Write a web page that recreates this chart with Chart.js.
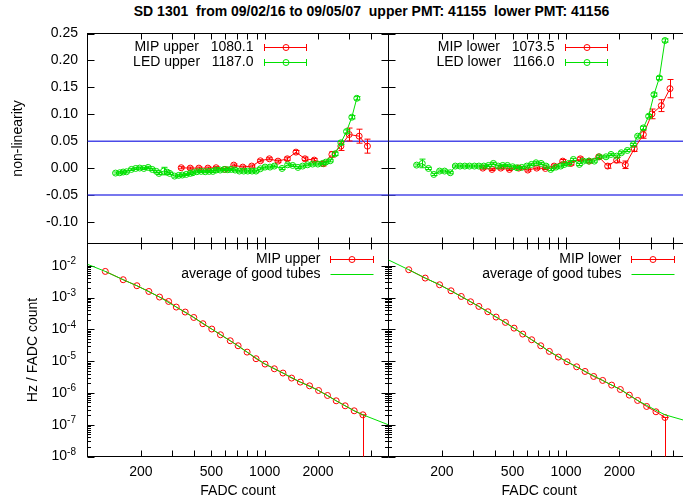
<!DOCTYPE html>
<html>
<head>
<meta charset="utf-8">
<script src="https://cdn.jsdelivr.net/npm/chart.js@4.4.1/dist/chart.umd.min.js"></script>
<style>
html, body { margin:0; padding:0; background:#fff; overflow:hidden; width:683px; height:501px; }
#wrap { position:relative; width:683px; height:501px; overflow:hidden; }
#wrap canvas { position:absolute; }
#title { position:absolute; top:3px; left:0; width:743px; text-align:center; white-space:pre;
         font:bold 14px "Liberation Sans", Arial, sans-serif; color:#000; }
</style>
</head>
<body>
<div id="wrap">
  <div id="title">SD 1301  from 09/02/16 to 09/05/07  upper PMT: 41155  lower PMT: 41156</div>
  <canvas id="c_tl" width="389" height="244" style="left:0;top:0"></canvas>
  <canvas id="c_tr" width="310" height="244" style="left:388px;top:0"></canvas>
  <canvas id="c_bl" width="389" height="258" style="left:0;top:243px"></canvas>
  <canvas id="c_br" width="310" height="258" style="left:388px;top:243px"></canvas>
</div>
<script>
// ---- values

// top left: non-linearity, upper PMT
const fadcMipUp = [338, 380, 425, 478, 532, 598, 669, 752, 845, 946, 1063, 1189, 1342, 1502, 1688, 1905, 2141, 2395, 2692, 2999, 3414, 3803];
const nlMipUp   = [0.0007, 0.0, 0.0, 0.0, 0.0007, -0.0024, 0.0056, 0.0019, 0.0038, 0.0136, 0.0173, 0.013, 0.0173, 0.0297, 0.0173, 0.0149, 0.0081, 0.0254, 0.0408, 0.0624, 0.0593, 0.0408];
const errMipUp  = [0.002, 0.002, 0.002, 0.002, 0.002, 0.002, 0.002, 0.002, 0.002, 0.002, 0.002, 0.002, 0.003, 0.003, 0.003, 0.003, 0.004, 0.005, 0.008, 0.012, 0.013, 0.013];

const fadcLedUp = [144, 152, 159, 166, 177, 187, 197, 208, 220, 232, 245, 253, 269, 281, 291, 310, 327, 343, 361, 380,
                   393, 414, 438, 462, 486, 510, 532, 561, 591, 619, 647, 681, 720, 762, 803, 849, 894, 946, 1005, 1072,
                   1134, 1253, 1348, 1439, 1541, 1637, 1747, 1864, 1997, 2122, 2216, 2344, 2501, 2692, 2897, 3104, 3312];
const nlLedUp   = [-0.0092, -0.0086, -0.0073, -0.0067, -0.0024, -0.0006, 0.0001, -0.0006, 0.0013, -0.0024, -0.0061, -0.0098, -0.0055, -0.0073, -0.0098, -0.0148, -0.0135, -0.0129, -0.0117, -0.0098,
                   -0.0086, -0.0067, -0.0061, -0.0067, -0.0061, -0.0061, -0.0036, -0.0036, -0.0024, -0.003, -0.0024, -0.0036, -0.0055, -0.0055, -0.0055, -0.0055, -0.0055, -0.0012, 0.0019, 0.0019,
                   0.0038, -0.0006, 0.0062, 0.005, 0.0013, 0.0038, 0.0062, 0.0075, 0.0075, 0.0087, 0.0112, 0.0136, 0.0266, 0.047, 0.068, 0.0945, 0.1297];
const errLedUp  = [0.002, 0.002, 0.002, 0.002, 0.002, 0.002, 0.002, 0.002, 0.002, 0.002, 0.002, 0.002, 0.007, 0.002, 0.002, 0.002, 0.002, 0.002, 0.002, 0.002,
                   0.002, 0.002, 0.002, 0.002, 0.002, 0.002, 0.002, 0.002, 0.002, 0.002, 0.002, 0.002, 0.002, 0.002, 0.002, 0.002, 0.002, 0.002, 0.002, 0.002,
                   0.002, 0.002, 0.002, 0.002, 0.002, 0.002, 0.002, 0.002, 0.002, 0.002, 0.002, 0.002, 0.003, 0.003, 0.003, 0.003, 0.003];

// top right: non-linearity, lower PMT
const fadcMipLo = [340, 383, 429, 480, 542, 609, 684, 766, 857, 959, 1068, 1205, 1354, 1529, 1718, 1930, 2160, 2427, 2729, 3052, 3445, 3855];
const nlMipLo   = [0.0, -0.0024, 0.0, -0.0024, 0.0, -0.0036, 0.0, -0.0006, 0.0038, 0.013, 0.0087, 0.0173, 0.013, 0.021, 0.0038, 0.0149, 0.0062, 0.0359, 0.0624, 0.1007, 0.116, 0.1476];
const errMipLo  = [0.002, 0.002, 0.002, 0.002, 0.002, 0.002, 0.002, 0.002, 0.002, 0.003, 0.003, 0.003, 0.003, 0.003, 0.004, 0.005, 0.007, 0.005, 0.007, 0.009, 0.011, 0.017];

const fadcLedLo = [144, 155, 168, 180, 194, 207, 223, 238, 253, 269, 286, 305, 323, 344, 366, 390, 415, 440, 468, 501,
                   530, 563, 601, 639, 678, 724, 772, 820, 879, 934, 980, 1036, 1101, 1190, 1253, 1343, 1445, 1542, 1681, 1794,
                   1930, 2051, 2217, 2397, 2534, 2729, 2923, 3132, 3357, 3613];
const nlLedLo   = [0.0056, 0.0087, -0.0006, -0.0117, -0.0055, -0.0055, -0.0086, 0.0038, 0.0038, 0.0038, 0.0038, 0.0038, 0.0038, 0.0038, 0.005, 0.0087, 0.0038, 0.005, 0.005, 0.0025,
                   0.0007, 0.0013, 0.0038, 0.0069, 0.0099, 0.0087, 0.0038, -0.0024, 0.0019, 0.0038, 0.0069, 0.0087, 0.0161, 0.0069, 0.013, 0.013, 0.013, 0.021, 0.021, 0.0254,
                   0.0223, 0.0285, 0.0328, 0.0439, 0.0593, 0.0747, 0.0964, 0.1365, 0.1673, 0.237];
const errLedLo  = [0.002, 0.008, 0.002, 0.002, 0.002, 0.002, 0.002, 0.002, 0.002, 0.002, 0.002, 0.002, 0.002, 0.002, 0.002, 0.002, 0.002, 0.002, 0.002, 0.002,
                   0.002, 0.002, 0.002, 0.002, 0.002, 0.002, 0.002, 0.002, 0.002, 0.002, 0.002, 0.002, 0.002, 0.002, 0.002, 0.002, 0.002, 0.002, 0.002, 0.002,
                   0.002, 0.002, 0.002, 0.002, 0.002, 0.003, 0.003, 0.003, 0.003, 0.003];

// bottom left: rate spectrum, upper PMT
const fadcRateUp = [126, 159, 190, 222, 255, 287, 317, 356, 398, 448, 503, 563, 639, 708, 796, 894, 1005, 1134, 1269, 1419, 1589, 1792, 2015, 2263, 2533, 2847, 3201, 3583];
const rateMipUp  = [6.62e-3, 3.63e-3, 2.35e-3, 1.55e-3, 1.035e-3, 7.53e-4, 5.01e-4, 3.49e-4, 2.36e-4, 1.50e-4, 1.02e-4, 6.74e-5, 4.37e-5, 3.04e-5,
                    1.92e-5, 1.19e-5, 8.07e-6, 5.74e-6, 4.21e-6, 2.93e-6, 2.19e-6, 1.67e-6, 1.19e-6, 8.30e-7, 5.65e-7, 3.93e-7, 2.74e-7, 2.05e-7];
const fadcAvgUp  = [100, 126, 159, 190, 255, 317, 398, 503, 639, 796, 1005, 1269, 1589, 2015, 2533, 3201, 3583, 5000];
const rateAvgUp  = [1.11e-2, 6.62e-3, 3.63e-3, 2.35e-3, 1.035e-3, 5.01e-4, 2.36e-4, 1.02e-4, 4.37e-5, 1.92e-5, 8.07e-6, 4.21e-6, 2.19e-6, 1.19e-6, 5.65e-7, 2.74e-7, 2.05e-7, 9.9e-8];

// bottom right: rate spectrum, lower PMT
const fadcRateLo = [130, 161, 194, 225, 257, 290, 323, 363, 404, 456, 510, 571, 641, 721, 806, 906, 1014, 1149, 1281, 1433, 1610, 1809, 2025, 2275, 2534, 2849, 3215, 3613];
const rateMipLo  = [7.48e-3, 4.09e-3, 2.52e-3, 1.63e-3, 1.08e-3, 7.36e-4, 5.25e-4, 3.57e-4, 2.43e-4, 1.65e-4, 1.09e-4, 7.08e-5, 4.70e-5, 3.04e-5,
                    2.02e-5, 1.34e-5, 9.53e-6, 6.63e-6, 4.73e-6, 3.29e-6, 2.47e-6, 1.76e-6, 1.28e-6, 8.52e-7, 5.79e-7, 3.75e-7, 2.55e-7, 1.69e-7];
const fadcAvgLo  = [100, 130, 161, 194, 257, 323, 404, 510, 641, 806, 1014, 1281, 1610, 2025, 2534, 2849, 3215, 3613, 5000];
const rateAvgLo  = [1.52e-2, 7.48e-3, 4.09e-3, 2.52e-3, 1.08e-3, 5.25e-4, 2.43e-4, 1.09e-4, 4.70e-5, 2.02e-5, 9.53e-6, 4.73e-6, 2.47e-6, 1.28e-6, 5.79e-7, 4.07e-7, 2.84e-7, 2.05e-7, 1.22e-7];

// last bin of each spectrum has an error bar reaching zero
const rateUpLowErr = new Array(rateMipUp.length - 1).fill(0).concat([rateMipUp[rateMipUp.length - 1]]);
const rateLoLowErr = new Array(rateMipLo.length - 1).fill(0).concat([rateMipLo[rateMipLo.length - 1]]);
const noErrUp = new Array(rateMipUp.length).fill(0);
const noErrLo = new Array(rateMipLo.length).fill(0);

// axes
const fadcRange = [100, 5000];
const fadcTicks = [200, 500, 1000, 2000];
const fadcMinor = [300, 400, 600, 700, 800, 900, 3000, 4000];
const nlRange = [-0.14, 0.25];
const nlTicks = [0.25, 0.20, 0.15, 0.10, 0.05, 0.00, -0.05, -0.10];
const nlLimits = [0.05, -0.05];
const rateRange = [1e-8, 0.05];
const rateDecades = [1e-2, 1e-3, 1e-4, 1e-5, 1e-6, 1e-7, 1e-8];

// ---- drawing
const FONT = '"Liberation Sans", Arial, sans-serif';
const RED = '#ff0000', GREEN = '#00e000', BLUE = '#4a4ae8';
Chart.defaults.font.family = FONT;
Chart.defaults.font.size = 14;
Chart.defaults.color = '#000';

function pts(xs, ys) {
	return xs.map(function(x, i) { return {x: x, y: ys[i]}; });
}

function series(xs, ys, color, lo, hi, order) {
	return {
		data: pts(xs, ys),
		borderColor: color,
		backgroundColor: 'rgba(0,0,0,0)',
		borderWidth: 1,
		pointRadius: 3,
		pointBorderWidth: 1,
		pointBackgroundColor: 'rgba(0,0,0,0)',
		pointBorderColor: color,
		tension: 0,
		errLo: lo,
		errHi: hi,
		order: order
	};
}

function plainLine(xs, ys, color, width, order) {
	return {data: pts(xs, ys), borderColor: color, borderWidth: width, pointRadius: 0, tension: 0, order: order};
}

// vertical error bars with caps, drawn right after their own dataset
const errorBars = {
	id: 'errorBars',
	afterDatasetDraw: function(chart, args) {
		const ds = chart.data.datasets[args.index];
		if (!ds.errLo) return;
		const ctx = chart.ctx, ca = chart.chartArea, ys = chart.scales[args.meta.yAxisID];
		const isLog = ys.type === 'logarithmic';
		ctx.save();
		ctx.beginPath();
		ctx.rect(ca.left, ca.top, ca.right - ca.left, ca.bottom - ca.top);
		ctx.clip();
		ctx.strokeStyle = ds.borderColor;
		ctx.lineWidth = 1;
		ctx.beginPath();
		args.meta.data.forEach(function(pt, i) {
			const v = ds.data[i].y, lo = v - ds.errLo[i], hi = v + ds.errHi[i];
			if (lo === hi) return;
			const x = Math.round(pt.x) + 0.5;
			const yHi = ys.getPixelForValue(hi);
			const yLo = (isLog && lo <= 0) ? ca.bottom + 2 : ys.getPixelForValue(lo);
			ctx.moveTo(x, yLo); ctx.lineTo(x, yHi);
			ctx.moveTo(x - 3, yHi); ctx.lineTo(x + 3, yHi);
			ctx.moveTo(x - 3, yLo); ctx.lineTo(x + 3, yLo);
		});
		ctx.stroke();
		ctx.restore();
	}
};

// gnuplot style border with inward ticks on all four sides
function frame(xTicks, yTicks) {
	return {
		id: 'frame',
		beforeDatasetsDraw: function(chart) {
			const ctx = chart.ctx, ca = chart.chartArea, xs = chart.scales.x, ys = chart.scales.y;
			ctx.save();
			ctx.strokeStyle = '#000';
			ctx.lineWidth = 1;
			ctx.beginPath();
			xTicks.forEach(function(t) {
				const px = Math.round(xs.getPixelForValue(t.v)) + 0.5;
				ctx.moveTo(px, ca.bottom); ctx.lineTo(px, ca.bottom - t.len);
				ctx.moveTo(px, ca.top); ctx.lineTo(px, ca.top + t.len);
			});
			yTicks.forEach(function(t) {
				const py = Math.round(ys.getPixelForValue(t.v)) + 0.5;
				ctx.moveTo(ca.left, py); ctx.lineTo(ca.left + t.len, py);
				ctx.moveTo(ca.right, py); ctx.lineTo(ca.right - t.len, py);
			});
			ctx.stroke();
			ctx.strokeRect(ca.left, ca.top, ca.right - ca.left, ca.bottom - ca.top);
			ctx.restore();
		}
	};
}

// key in gnuplot layout: right aligned text, then a sample
function key(rows, pos) {
	return {
		id: 'key',
		afterDraw: function(chart) {
			const ctx = chart.ctx, ca = chart.chartArea;
			ctx.save();
			ctx.font = '14px ' + FONT;
			ctx.textAlign = 'right';
			ctx.textBaseline = 'middle';
			rows.forEach(function(r, i) {
				const y = Math.round(ca.top + pos.dy[i]) + 0.5;
				const x1 = Math.round(ca.left + pos.x1) + 0.5, x2 = Math.round(ca.left + pos.x2) + 0.5;
				ctx.fillStyle = '#000';
				ctx.fillText(r.text, ca.left + pos.textRight, y);
				ctx.strokeStyle = r.color;
				ctx.lineWidth = 1;
				ctx.beginPath();
				ctx.moveTo(x1, y); ctx.lineTo(x2, y);
				if (r.caps) {
					ctx.moveTo(x1, y - 3.5); ctx.lineTo(x1, y + 3.5);
					ctx.moveTo(x2, y - 3.5); ctx.lineTo(x2, y + 3.5);
				}
				ctx.stroke();
				if (r.point) {
					ctx.beginPath();
					ctx.arc(Math.round((x1 + x2) / 2), y, 3, 0, 2 * Math.PI);
					ctx.stroke();
				}
			});
			ctx.restore();
		}
	};
}

// 10^n labels for the log axis
function powerLabels(values, right) {
	return {
		id: 'powerLabels',
		afterDraw: function(chart) {
			const ctx = chart.ctx, ys = chart.scales.y;
			ctx.save();
			ctx.fillStyle = '#000';
			ctx.textAlign = 'left';
			ctx.textBaseline = 'middle';
			values.forEach(function(v) {
				const py = ys.getPixelForValue(v);
				const e = String(Math.round(Math.log10(v)));
				ctx.font = '10px ' + FONT;
				const ew = ctx.measureText(e).width;
				ctx.font = '14px ' + FONT;
				const bw = ctx.measureText('10').width;
				const x0 = right - ew - bw;
				ctx.fillText('10', x0, py);
				ctx.font = '10px ' + FONT;
				ctx.fillText(e, x0 + bw, py - 4.5);
			});
			ctx.restore();
		}
	};
}

const xTickMarks = fadcTicks.concat(fadcMinor).map(function(v) { return {v: v, len: 6}; });
const nlTickMarks = nlTicks.map(function(v) { return {v: v, len: 7}; });
let rateTickMarks = rateDecades.map(function(v) { return {v: v, len: 7}; });
rateDecades.slice(1).forEach(function(d) {
	for (let m = 2; m <= 9; m++) rateTickMarks.push({v: d * m, len: 3.5});
});

function xTop() {
	return {type: 'logarithmic', min: fadcRange[0], max: fadcRange[1], bounds: 'data', display: false};
}
function xBottom() {
	return {
		type: 'logarithmic', min: fadcRange[0], max: fadcRange[1], bounds: 'data',
		grid: {display: false, drawTicks: false}, border: {display: false},
		ticks: {autoSkip: false, maxRotation: 0, padding: 7, callback: function(v) { return String(v); }},
		afterBuildTicks: function(s) { s.ticks = fadcTicks.map(function(v) { return {value: v}; }); },
		afterFit: function(s) { s.height = 44.5; s.paddingLeft = 0; s.paddingRight = 0; },
		title: {display: true, text: 'FADC count', padding: {top: 0, bottom: 1}}
	};
}

function panel(id, datasets, scales, padding, plugins) {
	return new Chart(document.getElementById(id), {
		type: 'line',
		data: {datasets: datasets},
		options: {
			responsive: false,
			animation: false,
			devicePixelRatio: 1,
			events: [],
			layout: {padding: padding, autoPadding: false},
			plugins: {legend: {display: false}, tooltip: {enabled: false}},
			scales: scales
		},
		plugins: [errorBars].concat(plugins)
	});
}

const topKeyPos = {textRight: 166, x1: 176, x2: 218, dy: [13, 28.5]};
const botKeyPos = {textRight: 233, x1: 242, x2: 285, dy: [15, 30.5]};

// top left
panel('c_tl', [
	series(fadcLedUp, nlLedUp, GREEN, errLedUp, errLedUp, 0),
	series(fadcMipUp, nlMipUp, RED, errMipUp, errMipUp, 1),
	plainLine(fadcRange, [nlLimits[0], nlLimits[0]], BLUE, 1.5, 2),
	plainLine(fadcRange, [nlLimits[1], nlLimits[1]], BLUE, 1.5, 2)
], {
	x: xTop(),
	y: {
		type: 'linear', min: nlRange[0], max: nlRange[1], bounds: 'data',
		grid: {display: false, drawTicks: false}, border: {display: false},
		ticks: {autoSkip: false, padding: 9.5, callback: function(v) { return v.toFixed(2); }},
		afterBuildTicks: function(s) { s.ticks = nlTicks.map(function(v) { return {value: v}; }); },
		afterFit: function(s) { s.width = 87.5; s.paddingTop = 0; s.paddingBottom = 0; },
		title: {display: true, text: 'non-linearity', padding: {top: 9.6, bottom: 0}}
	}
}, {left: 0, top: 33.5, right: 0.5, bottom: 0.5}, [
	frame(xTickMarks, nlTickMarks),
	key([
		{text: 'MIP upper   1080.1', color: RED, caps: true, point: true},
		{text: 'LED upper   1187.0', color: GREEN, caps: true, point: true}
	], topKeyPos)
]);

// top right
panel('c_tr', [
	series(fadcLedLo, nlLedLo, GREEN, errLedLo, errLedLo, 0),
	series(fadcMipLo, nlMipLo, RED, errMipLo, errMipLo, 1),
	plainLine(fadcRange, [nlLimits[0], nlLimits[0]], BLUE, 1.5, 2),
	plainLine(fadcRange, [nlLimits[1], nlLimits[1]], BLUE, 1.5, 2)
], {
	x: xTop(),
	y: {type: 'linear', min: nlRange[0], max: nlRange[1], bounds: 'data', display: false}
}, {left: 0.5, top: 33.5, right: 8, bottom: 0.5}, [
	frame(xTickMarks, nlTickMarks),
	key([
		{text: 'MIP lower   1073.5', color: RED, caps: true, point: true},
		{text: 'LED lower   1166.0', color: GREEN, caps: true, point: true}
	], topKeyPos)
]);

// bottom left
panel('c_bl', [
	plainLine(fadcAvgUp, rateAvgUp, GREEN, 1, 0),
	series(fadcRateUp, rateMipUp, RED, rateUpLowErr, noErrUp, 1)
], {
	x: xBottom(),
	y: {
		type: 'logarithmic', min: rateRange[0], max: rateRange[1], bounds: 'data',
		grid: {display: false, drawTicks: false}, border: {display: false},
		ticks: {display: false},
		afterFit: function(s) { s.width = 87.5; s.paddingTop = 0; s.paddingBottom = 0; },
		title: {display: true, text: 'Hz / FADC count', padding: {top: 24.6, bottom: 0}}
	}
}, {left: 0, top: 0.5, right: 0.5, bottom: 0}, [
	frame(xTickMarks, rateTickMarks),
	powerLabels(rateDecades, 76),
	key([
		{text: 'MIP upper', color: RED, caps: true, point: true},
		{text: 'average of good tubes', color: GREEN, caps: false, point: false}
	], botKeyPos)
]);

// bottom right
panel('c_br', [
	plainLine(fadcAvgLo, rateAvgLo, GREEN, 1, 0),
	series(fadcRateLo, rateMipLo, RED, rateLoLowErr, noErrLo, 1)
], {
	x: xBottom(),
	y: {type: 'logarithmic', min: rateRange[0], max: rateRange[1], bounds: 'data', display: false}
}, {left: 0.5, top: 0.5, right: 8, bottom: 0}, [
	frame(xTickMarks, rateTickMarks),
	key([
		{text: 'MIP lower', color: RED, caps: true, point: true},
		{text: 'average of good tubes', color: GREEN, caps: false, point: false}
	], botKeyPos)
]);
</script>
</body>
</html>
